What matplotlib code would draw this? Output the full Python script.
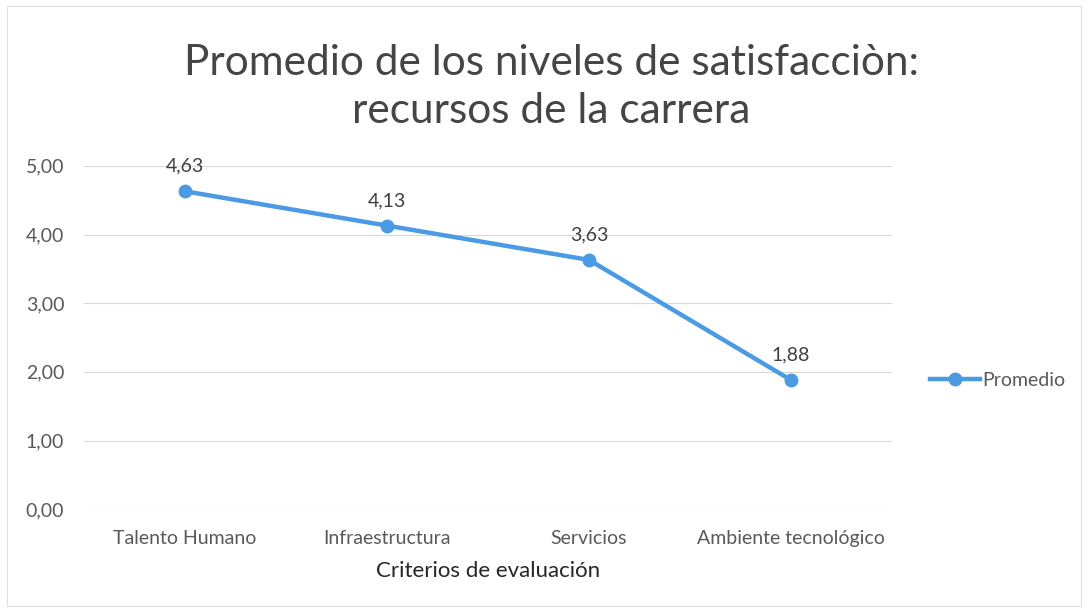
import matplotlib
matplotlib.use("Agg")
import matplotlib.pyplot as plt
from matplotlib.ticker import FuncFormatter, MultipleLocator
from matplotlib.patches import Rectangle

categories = ["Talento Humano", "Infraestructura", "Servicios", "Ambiente tecnológico"]
promedio = [4.63, 4.13, 3.63, 1.88]

plt.rcParams['font.family'] = ['Lato', 'DejaVu Sans']
gray = '#595959'
blue = '#4a9be3'

fig = plt.figure(figsize=(10.88, 6.12), dpi=100)
ax = fig.add_axes([0.077, 0.168, 0.743, 0.561])

x = list(range(len(categories)))
ax.plot(x, promedio, color=blue, linewidth=3.2, marker='o', markersize=9,
        markerfacecolor=blue, markeredgecolor=blue, label='Promedio', zorder=3)
for xi, v in zip(x, promedio):
    ax.annotate(f"{v:.2f}".replace('.', ','), (xi, v), xytext=(0, 12),
                textcoords='offset points', ha='center', va='bottom',
                fontsize=14, color='#404040')

ax.set_xlim(-0.5, len(categories) - 0.5)
ax.set_ylim(0, 5)
ax.yaxis.set_major_locator(MultipleLocator(1))
ax.yaxis.set_major_formatter(FuncFormatter(lambda v, p: f"{v:.2f}".replace('.', ',')))
ax.set_xticks(x)
ax.set_xticklabels(categories)
ax.tick_params(axis='both', length=0, labelsize=14, labelcolor=gray)
ax.tick_params(axis='y', pad=14)
ax.tick_params(axis='x', pad=15)
ax.grid(axis='y', color='#d9d9d9', linewidth=0.8)
ax.set_axisbelow(True)
for s in ax.spines.values():
    s.set_visible(False)

ax.set_xlabel("Criterios de evaluación", fontsize=16, color='#262626', labelpad=10)

fig.text(0.507, 0.858, "Promedio de los niveles de satisfacciòn:\nrecursos de la carrera",
         ha='center', va='center', fontsize=30.5, fontweight='normal', color='#454545',
         linespacing=1.32)

leg = ax.legend(loc='center left', bbox_to_anchor=(1.025, 0.375), frameon=False,
                fontsize=14, handlelength=2.6, handletextpad=0.1)
for t in leg.get_texts():
    t.set_color(gray)

fig.patches.append(Rectangle((0.006, 0.01), 0.988, 0.98, transform=fig.transFigure,
                             fill=False, edgecolor='#e0e0e0', linewidth=0.8))

fig.savefig("out.png", dpi=100)
